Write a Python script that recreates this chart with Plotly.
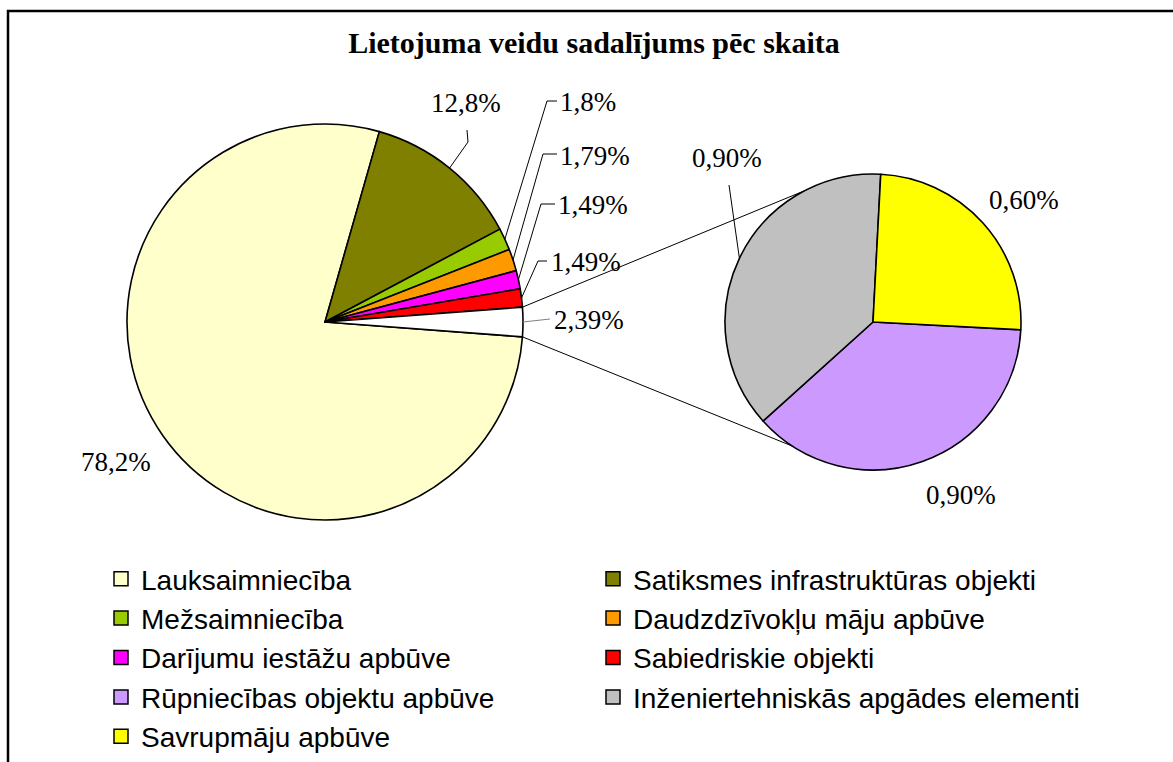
import math
import plotly.graph_objects as go

W, H = 1173, 762

# ---------------- data ----------------
title_text = "Lietojuma veidu sadalījums pēc skaita"

main_labels = ["Lauksaimniecība", "Satiksmes infrastruktūras objekti", "Mežsaimniecība",
               "Daudzdzīvokļu māju apbūve", "Darījumu iestāžu apbūve", "Sabiedriskie objekti"]
main_values = [78.2, 12.8, 1.8, 1.79, 1.49, 1.49]
main_text = ["78,2%", "12,8%", "1,8%", "1,79%", "1,49%", "1,49%"]

other_label = "Citi"
other_value = 2.39
other_text = "2,39%"

sub_labels = ["Rūpniecības objektu apbūve", "Inženiertehniskās apgādes elementi", "Savrupmāju apbūve"]
sub_values = [0.90, 0.90, 0.60]
sub_text = ["0,90%", "0,90%", "0,60%"]

main_colors = ["#FFFFCC", "#808000", "#99CC00", "#FF9900", "#FF00FF", "#FF0000"]
other_color = "#FFFFFF"
sub_colors = ["#CC99FF", "#C0C0C0", "#FFFF00"]

# ---------------- layout geometry (pixels) ----------------
MAIN_C, MAIN_R = (325, 322), 198
SUB_C, SUB_R = (873, 322), 148
SUB_ROT = 93
CONNECT_ANG = (332.7, 213.0)   # where the connector lines meet the secondary pie


def px(x):
    return x / W


def py(y):
    return 1 - y / H


def edge(c, r, ang):
    a = math.radians(ang)
    return (c[0] + r * math.sin(a), c[1] - r * math.cos(a))


all_main = main_values + [other_value]
tot_main = sum(all_main)
main_rot = 90 + other_value / tot_main * 180


def mid_angles(vals, rot):
    tot = sum(vals)
    out, cum = [], rot
    for v in vals:
        span = v / tot * 360
        out.append(cum + span / 2)
        cum += span
    return out


main_mid = mid_angles(all_main, main_rot)
sub_mid = mid_angles(sub_values, SUB_ROT)

fig = go.Figure()

line_style = dict(color="black", width=1.6)

fig.add_trace(go.Pie(
    labels=main_labels + [other_label], values=all_main, sort=False,
    direction="clockwise", rotation=main_rot, textinfo="none",
    marker=dict(colors=main_colors + [other_color], line=line_style),
    domain=dict(x=[px(MAIN_C[0] - MAIN_R), px(MAIN_C[0] + MAIN_R)],
                y=[py(MAIN_C[1] + MAIN_R), py(MAIN_C[1] - MAIN_R)]),
    showlegend=False, hoverinfo="label+value"))

fig.add_trace(go.Pie(
    labels=sub_labels, values=sub_values, sort=False,
    direction="clockwise", rotation=SUB_ROT, textinfo="none",
    marker=dict(colors=sub_colors, line=line_style),
    domain=dict(x=[px(SUB_C[0] - SUB_R), px(SUB_C[0] + SUB_R)],
                y=[py(SUB_C[1] + SUB_R), py(SUB_C[1] - SUB_R)]),
    showlegend=False, hoverinfo="label+value"))

# legend entries
for lab, col in zip(main_labels + sub_labels, main_colors + sub_colors):
    fig.add_trace(go.Scatter(
        x=[None], y=[None], mode="markers", name=lab,
        marker=dict(symbol="square", size=14, color=col,
                    line=dict(color="black", width=1.5))))

shapes = []
annotations = []

# frame
shapes.append(dict(type="rect", xref="paper", yref="paper",
                   x0=px(8), y0=py(11), x1=1.05, y1=-0.05,
                   line=dict(color="black", width=2.5)))

# connector lines between pies
other_start = main_rot + sum(main_values) / tot_main * 360
other_end = main_rot + 360
for a_main, a_sub in zip((other_start, other_end), CONNECT_ANG):
    p0 = edge(MAIN_C, MAIN_R, a_main)
    p1 = edge(SUB_C, SUB_R, a_sub)
    shapes.append(dict(type="line", xref="paper", yref="paper",
                       x0=px(p0[0]), y0=py(p0[1]), x1=px(p1[0]), y1=py(p1[1]),
                       line=dict(color="black", width=1)))

# label placement: (text x, text y, xanchor, leader bend points)
main_lab_pos = [
    (116, 462, "center", None),
    (466, 103, "center", [(468, 142), (467, 130)]),
    (558, 102, "left", [(547, 101), (557, 101)]),
    (558, 156, "left", [(543, 154), (557, 154)]),
    (556, 205, "left", [(541, 204), (555, 204)]),
    (549, 262, "left", [(538, 261), (547, 261)]),
]
other_lab_pos = (552, 320, "left", [(550, 319)])
sub_lab_pos = [
    (961, 495, "center", None),
    (727, 158, "center", [(729, 185)]),
    (1024, 200, "center", None),
]

label_font = dict(family="Liberation Serif, Times New Roman, serif", size=27, color="black")


def add_label(txt, pos, c, r, ang, lcolor="black"):
    x, y, anchor, bends = pos
    annotations.append(dict(text=txt, x=px(x), y=py(y), xref="paper", yref="paper",
                            xanchor=anchor, yanchor="middle", showarrow=False,
                            font=label_font))
    if bends:
        e = edge(c, r, ang)
        pts = [e] + bends
        path = "M " + " L ".join(f"{px(p[0]):.5f},{py(p[1]):.5f}" for p in pts)
        shapes.append(dict(type="path", xref="paper", yref="paper", path=path,
                           line=dict(color=lcolor, width=1)))


for i, t in enumerate(main_text):
    add_label(t, main_lab_pos[i], MAIN_C, MAIN_R, main_mid[i])
add_label(other_text, other_lab_pos, MAIN_C, MAIN_R, main_mid[-1], lcolor="#808080")
for i, t in enumerate(sub_text):
    add_label(t, sub_lab_pos[i], SUB_C, SUB_R, sub_mid[i])

fig.update_layout(
    width=W, height=H, autosize=False,
    margin=dict(l=0, r=0, t=0, b=0),
    paper_bgcolor="white", plot_bgcolor="white",
    title=dict(text="<b>" + title_text + "</b>", x=px(594), y=py(42),
               xanchor="center", yanchor="middle",
               font=dict(family="Liberation Serif, Times New Roman, serif", size=30, color="black")),
    xaxis=dict(visible=False), yaxis=dict(visible=False),
    legend=dict(orientation="h", x=px(101), y=py(554), xanchor="left", yanchor="top",
                entrywidth=447, entrywidthmode="pixels", traceorder="normal",
                bgcolor="rgba(0,0,0,0)",
                font=dict(family="Liberation Sans, Arial, sans-serif", size=28, color="black")),
    shapes=shapes, annotations=annotations,
)

fig.write_html("out.html", config={"displayModeBar": False},
               post_script="document.body.style.margin='0';document.body.style.overflow='hidden';")
